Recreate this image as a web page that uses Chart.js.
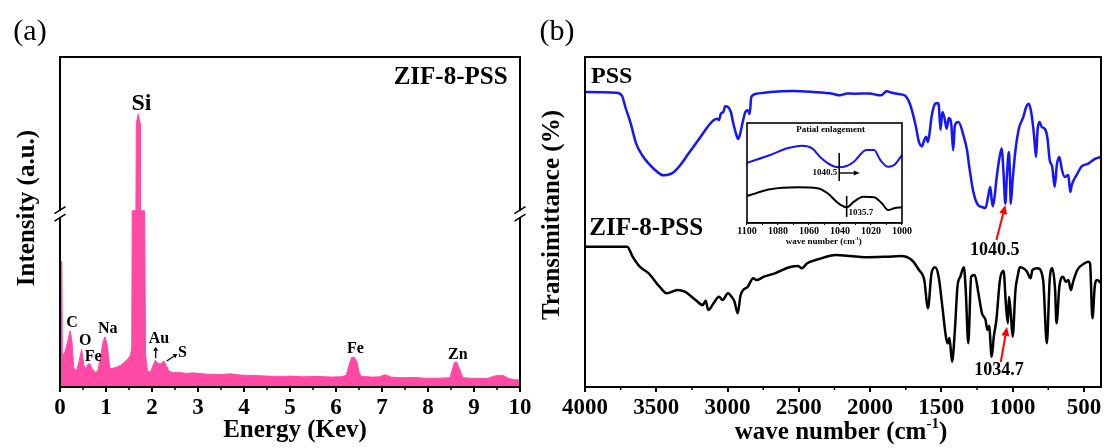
<!DOCTYPE html>
<html><head><meta charset="utf-8">
<script src="https://cdn.jsdelivr.net/npm/chart.js@4.4.0/dist/chart.umd.min.js"></script>
<style>
html,body{margin:0;padding:0;background:#fff;width:1107px;height:448px;overflow:hidden;position:relative}
canvas{position:absolute}
</style></head><body>
<canvas id="ca" width="540" height="448" style="left:0;top:0"></canvas>
<canvas id="cb" width="577" height="448" style="left:530px;top:0"></canvas>
<canvas id="cc" width="200" height="140" style="left:720px;top:110px"></canvas>
<script>
// ---------- (a) EDS spectrum ----------
const edsEnergy = [0,0.04,0.05,0.08,0.12,0.17,0.22,0.26,0.30,0.36,0.41,0.47,0.52,0.56,0.61,0.65,0.70,0.77,0.82,0.88,0.94,0.98,1.03,1.08,1.13,1.23,1.32,1.40,1.47,1.53,1.56,1.57,1.65,1.66,1.70,1.74,1.75,1.84,1.86,1.90,1.97,2.02,2.07,2.13,2.18,2.26,2.31,2.37,2.47,2.6,2.75,2.9,3.0,3.2,3.5,3.7,3.92,4.2,4.5,4.8,5.0,5.3,5.6,5.9,6.1,6.22,6.28,6.34,6.40,6.46,6.50,6.55,6.8,6.95,7.05,7.12,7.2,7.4,7.7,8.0,8.3,8.48,8.53,8.58,8.63,8.70,8.76,9.0,9.3,9.42,9.5,9.65,9.75,9.9,10.0];
const edsCounts = [38,38,10.5,9.5,11.2,14,17,14,5.6,5.0,7.5,11.4,6.5,5.5,7.0,7.0,5.5,4.5,4.8,9.0,14,15.2,12.5,5.8,5.6,6.0,6.6,7.5,8.5,9.5,12,53.4,53.4,80,82.7,80,53.4,53.4,10,4.8,4.6,6.5,8.1,7.2,7.0,7.9,6.5,4.8,4.3,4.4,4.1,4.3,4.1,3.9,3.8,4.0,3.6,3.5,3.3,3.2,3.3,3.1,3.2,3.0,3.1,3.5,6.5,9.0,9.0,7.5,4.5,3.2,3.0,3.1,3.7,3.5,3.0,2.8,2.9,2.6,2.7,2.8,5.5,7.5,7.4,5.0,2.8,2.6,2.6,3.2,3.5,3.4,2.6,2.2,2.1];
const edsTicks = [0,1,2,3,4,5,6,7,8,9,10];
const edsBreak = 52.4;
const edsLabelText = ['C','O','Fe','Na','Au','S','Fe','Zn'];
const edsLabelE    = [0.26,0.55,0.72,1.04,2.15,2.66,6.42,8.65];
const edsLabelV    = [19.4,13.9,9.2,17.5,14.5,10.2,11.7,9.7];

// ---------- (b) FTIR spectra ----------
const pssWn = [4000,3780,3740,3717,3679,3641,3600,3553,3500,3452,3400,3376,3320,3275,3220,3174,3130,3098,3073,3060,3047,3030,3017,2997,2977,2959,2940,2926,2912,2901,2875,2858,2845,2833,2795,2700,2542,2400,2264,2213,2160,2112,2000,1961,1923,1885,1847,1800,1759,1721,1683,1657,1637,1620,1607,1594,1580,1569,1543,1525,1518,1506,1493,1478,1463,1448,1430,1417,1405,1380,1342,1320,1304,1278,1260,1241,1215,1190,1170,1157,1148,1139,1125,1114,1095,1076,1065,1051,1040,1026,1019,1013,1000,980,955,925,905,887,870,850,836,825,811,795,773,756,740,722,705,690,672,654,634,609,596,585,571,546,520,470,419,381];
const pssT = [295,294.3,291,280,263.3,243.3,232,223.3,216,211.7,213,215,224,233.3,244,253.3,262,266.7,268.3,267,273.3,275,280.7,280,275,263.3,253,248,253,260,275,276.7,273,290,293.3,295,296,295,293.3,291.7,293.5,293.3,293.5,292.3,291.7,295.7,294.3,293,291.7,283.3,263.3,245,240.7,247,250.3,245,257,270,283.3,284,281.7,257.3,275,269,258.3,269,262,236.7,261.7,265,250,237,220,196.7,187,181.7,180,179,192,200,189,180.7,192,207,227,238.7,217,183.3,212,235,212,183.3,207,237,259,270,280,283.3,275,252,230,257,265,260,258,249,227,220,200,222,230,217,210,212,195,202,207,213.3,220,223.3,228.3,230];
const zifWn = [4000,3704,3666,3616,3553,3477,3426,3351,3300,3224,3174,3153,3136,3098,3060,3035,2997,2972,2951,2929,2908,2858,2820,2795,2744,2668,2567,2504,2479,2441,2365,2239,2138,2037,1885,1784,1708,1657,1620,1594,1569,1544,1519,1493,1468,1455,1443,1425,1405,1387,1367,1342,1329,1311,1291,1266,1240,1215,1190,1177,1165,1147,1132,1114,1089,1064,1046,1033,1026,1013,1000,980,963,950,925,899,874,861,824,786,760,740,722,702,692,672,647,626,609,591,576,546,495,470,457,440,424,407,381];
const zifT = [140.3,140.3,130.3,120.3,113.7,100.3,93.7,97,95.3,87,82,86.3,77,83.7,90.3,87,93.7,90.3,85.3,73.7,92,100.3,108.7,107,110.3,113.7,119.7,121,118.7,123.7,127.7,132,131,129.7,130.3,131,127,117,107,78.7,113.7,119.7,110.3,80.3,50.3,43.7,49,25.3,57,100.3,110.3,119.7,97,43.7,110.3,112,93.7,73.7,67,57,61,30.3,50.3,67,107,116.3,80.3,63.7,90.3,74,50.3,97,112,119.7,118.7,115.3,108.7,117,118.7,107,43.7,107,118.7,97,63.7,100.3,110.3,105,107,97,105,117,123.7,125.3,123.7,68.7,100.3,107,104];
const irTicks = [4000,3500,3000,2500,2000,1500,1000,500];

// ---------- inset (partial enlargement) ----------
const insetPssWn = [1100,1085,1074,1064.5,1058,1052,1046,1041,1035.7,1031,1023,1018,1014,1009,1005,1000];
const insetPssT  = [60.3,68,74.7,77.3,74.7,64.7,58,55.7,57,61.3,73,73,63,56.3,58,68];
const insetZifWn = [1100,1085,1067,1054.5,1048,1041.5,1035.7,1031,1025,1018,1013,1009,1005,1000];
const insetZifT  = [27,33.7,35.7,34.7,29.7,20.3,15.7,21.3,26.3,25.7,19.7,13,14.7,15.7];
const insetTicks = [1100,1080,1060,1040,1020,1000];

// ---------- helpers ----------
const FAM = '"Liberation Serif", "Times New Roman", serif';
function font(sz, bold = true) { return (bold ? 'bold ' : '') + sz + 'px ' + FAM; }
function tfont(sz) { return {family: 'Liberation Serif', size: sz, weight: 'bold', lineHeight: 1.2}; }
function pts(xs, ys) { return xs.map((x, i) => ({x: x, y: ys[i]})); }
function txt(ctx, s, x, y, f, align = 'center', color = '#000') {
  ctx.save(); ctx.font = f; ctx.fillStyle = color; ctx.textAlign = align; ctx.textBaseline = 'middle';
  ctx.fillText(s, x, y); ctx.restore();
}
function rtxt(ctx, s, x, y, f) {
  ctx.save(); ctx.translate(x, y); ctx.rotate(-Math.PI / 2);
  ctx.font = f; ctx.fillStyle = '#000'; ctx.textAlign = 'center'; ctx.textBaseline = 'middle';
  ctx.fillText(s, 0, 0); ctx.restore();
}
function supLabel(ctx, a, sup, b, cx, cy, size) {
  ctx.save(); ctx.fillStyle = '#000'; ctx.textBaseline = 'middle'; ctx.textAlign = 'left';
  const fm = font(size), fs = font(Math.round(size * 0.6));
  ctx.font = fm; const wa = ctx.measureText(a).width, wb = ctx.measureText(b).width;
  ctx.font = fs; const ws = ctx.measureText(sup).width;
  let x = cx - (wa + ws + wb) / 2;
  ctx.font = fm; ctx.fillText(a, x, cy); x += wa;
  ctx.font = fs; ctx.fillText(sup, x, cy - size * 0.36); x += ws;
  ctx.font = fm; ctx.fillText(b, x, cy);
  ctx.restore();
}
function line(ctx, x1, y1, x2, y2) { ctx.beginPath(); ctx.moveTo(x1, y1); ctx.lineTo(x2, y2); ctx.stroke(); }
function arrow(ctx, x1, y1, x2, y2, color, lw, hl, hw) {
  ctx.save(); ctx.strokeStyle = color; ctx.fillStyle = color; ctx.lineWidth = lw;
  const a = Math.atan2(y2 - y1, x2 - x1);
  const bx = x2 - hl * Math.cos(a), by = y2 - hl * Math.sin(a);
  line(ctx, x1, y1, bx, by);
  ctx.beginPath(); ctx.moveTo(x2, y2);
  ctx.lineTo(bx + hw * Math.sin(a), by - hw * Math.cos(a));
  ctx.lineTo(bx - hw * Math.sin(a), by + hw * Math.cos(a));
  ctx.closePath(); ctx.fill(); ctx.restore();
}
function box(ctx, ca, lw) {
  ctx.save(); ctx.strokeStyle = '#000'; ctx.lineWidth = lw;
  ctx.strokeRect(ca.left, ca.top, ca.right - ca.left, ca.bottom - ca.top); ctx.restore();
}
function minorTicks(ctx, xs, yb, majors, len, lw) {
  ctx.save(); ctx.strokeStyle = '#000'; ctx.lineWidth = lw;
  for (let i = 0; i < majors.length - 1; i++) {
    const px = xs.getPixelForValue((majors[i] + majors[i + 1]) / 2);
    line(ctx, px, yb, px, yb + len);
  }
  ctx.restore();
}

function makeChart(id, datasets, xr, yMax, ticksArr, pad, xH, tFont, tLen, tPad, gw, plugin) {
  return new Chart(document.getElementById(id), {
    type: 'line',
    data: {datasets: datasets},
    options: {
      responsive: false, animation: false, devicePixelRatio: 1,
      layout: {padding: pad},
      plugins: {legend: {display: false}, tooltip: {enabled: false}},
      elements: {point: {radius: 0}},
      scales: {
        x: {
          type: 'linear', min: xr[0], max: xr[1], reverse: xr[2],
          afterBuildTicks: s => { s.ticks = ticksArr.map(v => ({value: v})); },
          afterFit: s => { s.height = xH; },
          ticks: {font: tFont, color: '#000', padding: tPad, maxRotation: 0, minRotation: 0, autoSkip: false,
                  callback: v => String(v)},
          grid: {display: true, drawOnChartArea: false, drawTicks: true, tickLength: tLen, color: '#000', lineWidth: gw},
          border: {display: true, color: '#000', width: gw}
        },
        y: {display: false, min: 0, max: yMax}
      }
    },
    plugins: [plugin]
  });
}

// ---------- chart (a) ----------
const pluginA = {id: 'decorA', afterDraw(chart) {
  const ctx = chart.ctx, ca = chart.chartArea, x = chart.scales.x, y = chart.scales.y;
  box(ctx, ca, 2);
  minorTicks(ctx, x, ca.bottom, edsTicks, 3, 1.5);
  const cy = y.getPixelForValue(edsBreak);
  [ca.left, ca.right].forEach(bx => {
    ctx.save(); ctx.fillStyle = '#fff'; ctx.fillRect(bx - 2, cy - 3, 4, 6);
    ctx.strokeStyle = '#000'; ctx.lineWidth = 1.6;
    line(ctx, bx - 5.5, cy - 0.5, bx + 5.5, cy - 7.5);
    line(ctx, bx - 5.5, cy + 7, bx + 5.5, cy);
    ctx.restore();
  });
  edsLabelText.forEach((t, i) => txt(ctx, t, x.getPixelForValue(edsLabelE[i]), y.getPixelForValue(edsLabelV[i]), font(16)));
  txt(ctx, 'Si', x.getPixelForValue(1.77), y.getPixelForValue(85.8), font(24));
  arrow(ctx, x.getPixelForValue(2.08), y.getPixelForValue(8.7), x.getPixelForValue(2.08), y.getPixelForValue(12.2), '#000', 1.3, 4, 2.5);
  arrow(ctx, x.getPixelForValue(2.32), y.getPixelForValue(7.9), x.getPixelForValue(2.55), y.getPixelForValue(10.0), '#000', 1.3, 4, 2.5);
  txt(ctx, 'ZIF-8-PSS', x.getPixelForValue(9.73), y.getPixelForValue(93.9), font(25), 'right');
  rtxt(ctx, 'Intensity (a.u.)', 28, 208, font(25));
  txt(ctx, 'Energy (Kev)', 295, 431, font(25));
  txt(ctx, '(a)', 30, 32, font(30, false));
}};
makeChart('ca',
  [{data: pts(edsEnergy, edsCounts), borderColor: '#ff4aa5', backgroundColor: '#ff4aa5', fill: 'origin', borderWidth: 1, tension: 0}],
  [0, 10, false], 100, edsTicks, {left: 60, right: 20, top: 57, bottom: 0}, 61, tfont(23), 5, 2, 2, pluginA);

// ---------- chart (b) ----------
const pluginB = {id: 'decorB', afterDraw(chart) {
  const ctx = chart.ctx, ca = chart.chartArea, x = chart.scales.x, y = chart.scales.y;
  box(ctx, ca, 2);
  minorTicks(ctx, x, ca.bottom, irTicks, 3, 1.5);
  txt(ctx, 'PSS', x.getPixelForValue(3958), y.getPixelForValue(310), font(24), 'left');
  txt(ctx, 'ZIF-8-PSS', x.getPixelForValue(3970), y.getPixelForValue(158), font(25), 'left');
  txt(ctx, '1040.5', x.getPixelForValue(1126), y.getPixelForValue(137), font(18));
  txt(ctx, '1034.7', x.getPixelForValue(1096), y.getPixelForValue(17), font(18));
  arrow(ctx, x.getPixelForValue(1114), y.getPixelForValue(147), x.getPixelForValue(1051), y.getPixelForValue(182), '#ff0000', 2, 9, 4);
  arrow(ctx, x.getPixelForValue(1083), y.getPixelForValue(25), x.getPixelForValue(1040), y.getPixelForValue(60), '#ff0000', 2, 9, 4);
  rtxt(ctx, 'Transimittance (%)', 23, 215, font(25));
  supLabel(ctx, 'wave number (cm', '-1', ')', 311, 433, 25);
  txt(ctx, '(b)', 27, 32, font(30, false));
}};
makeChart('cb',
  [{data: pts(pssWn, pssT), borderColor: '#1414ff', borderWidth: 2.5, fill: false, cubicInterpolationMode: 'monotone'},
   {data: pts(zifWn, zifT), borderColor: '#000000', borderWidth: 2.5, fill: false, cubicInterpolationMode: 'monotone'}],
  [380, 4000, true], 330, irTicks, {left: 55, right: 6, top: 57, bottom: 0}, 61, tfont(23), 5, 2, 2, pluginB);

// ---------- inset ----------
const pluginC = {id: 'decorC', afterDraw(chart) {
  const ctx = chart.ctx, ca = chart.chartArea, x = chart.scales.x, y = chart.scales.y;
  box(ctx, ca, 1.6);
  minorTicks(ctx, x, ca.bottom, insetTicks, 2, 1);
  txt(ctx, 'Patial enlagement', x.getPixelForValue(1046), y.getPixelForValue(93.5), font(9));
  ctx.save(); ctx.strokeStyle = '#000'; ctx.lineWidth = 1.6;
  line(ctx, x.getPixelForValue(1040.5), y.getPixelForValue(70), x.getPixelForValue(1040.5), y.getPixelForValue(42));
  line(ctx, x.getPixelForValue(1035.7), y.getPixelForValue(27), x.getPixelForValue(1035.7), y.getPixelForValue(6));
  ctx.restore();
  arrow(ctx, x.getPixelForValue(1040.2), y.getPixelForValue(50), x.getPixelForValue(1027.3), y.getPixelForValue(50), '#000', 1.4, 6, 2.6);
  txt(ctx, '1040.5', x.getPixelForValue(1041.8), y.getPixelForValue(50), font(9), 'right');
  txt(ctx, '1035.7', x.getPixelForValue(1034.5), y.getPixelForValue(10.5), font(9), 'left');
  supLabel(ctx, 'wave number (cm', '-1', ')', x.getPixelForValue(1050.5), ca.bottom + 19, 9);
}};
makeChart('cc',
  [{data: pts(insetPssWn, insetPssT), borderColor: '#1414ff', borderWidth: 2, fill: false, cubicInterpolationMode: 'monotone'},
   {data: pts(insetZifWn, insetZifT), borderColor: '#000000', borderWidth: 2, fill: false, cubicInterpolationMode: 'monotone'}],
  [1000, 1100, true], 100, insetTicks, {left: 27, right: 18, top: 13, bottom: 0}, 27, tfont(10), 2, 0, 1.2, pluginC);
</script>
</body></html>
